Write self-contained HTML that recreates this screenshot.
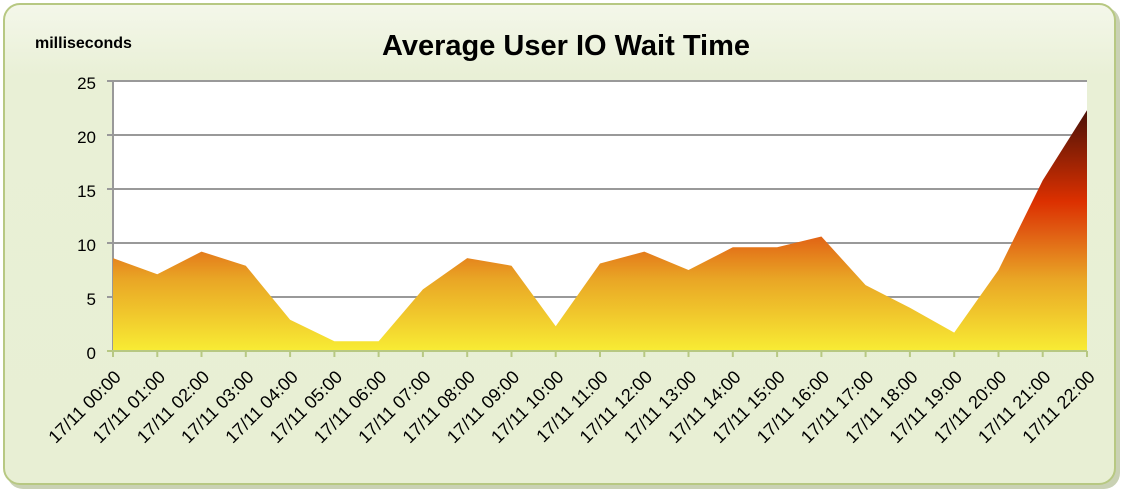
<!DOCTYPE html>
<html><head><style>body{margin:0;background:#fff}</style></head><body>
<svg width="1122" height="491" xmlns="http://www.w3.org/2000/svg" font-family="Liberation Sans, sans-serif">
<defs>
<linearGradient id="g" gradientUnits="userSpaceOnUse" x1="0" y1="351" x2="0" y2="110">
<stop offset="0" stop-color="#f8ec34"/>
<stop offset="0.3" stop-color="#e9a525"/>
<stop offset="0.5" stop-color="#e05a12"/>
<stop offset="0.62" stop-color="#dc3000"/>
<stop offset="1" stop-color="#4a1208"/>
</linearGradient>
<linearGradient id="bg" x1="0" y1="0" x2="0" y2="1">
<stop offset="0" stop-color="#f4f7ea"/><stop offset="0.15" stop-color="#e9f0d6"/><stop offset="1" stop-color="#e8efd4"/>
</linearGradient>
</defs>
<rect x="7" y="7" width="1113" height="482" rx="16" fill="#c9d1b4"/>
<rect x="4" y="4" width="1111" height="480" rx="16" fill="url(#bg)" stroke="#b7c882" stroke-width="2"/>
<text x="35" y="48" font-size="16" font-weight="bold">milliseconds</text>
<text x="566" y="55" font-size="29" font-weight="bold" text-anchor="middle">Average User IO Wait Time</text>
<rect x="113" y="81" width="974" height="270" fill="#fff"/>
<g stroke="#999" stroke-width="2">
<line x1="107" y1="81" x2="1087" y2="81"/><line x1="107" y1="135" x2="1087" y2="135"/>
<line x1="107" y1="189" x2="1087" y2="189"/><line x1="107" y1="243" x2="1087" y2="243"/>
<line x1="107" y1="297" x2="1087" y2="297"/><line x1="113" y1="81" x2="113" y2="351"/>
</g>
<g font-size="17" text-anchor="end">
<text x="96" y="89">25</text><text x="96" y="143">20</text><text x="96" y="197">15</text>
<text x="96" y="251">10</text><text x="96" y="305">5</text><text x="96" y="359">0</text>
</g>
<polygon fill="url(#g)" points="113,351 113,258.1 157.3,274.3 201.5,251.6 245.8,265.7 290.1,319.7 334.4,341.3 378.6,341.3 422.9,289.4 467.2,258.1 511.5,265.7 555.7,326.2 600,263.5 644.3,251.6 688.5,270 732.8,247.3 777.1,247.3 821.4,236.5 865.6,285.1 909.9,307.8 954.2,332.6 998.5,270 1042.7,180.4 1087,110.2 1087,351"/>
<line x1="107" y1="351" x2="1087" y2="351" stroke="#b7c882" stroke-width="2"/>
<g stroke="#b7c882" stroke-width="2">
<line x1="113" y1="351" x2="113" y2="357"/><line x1="157.3" y1="351" x2="157.3" y2="357"/><line x1="201.5" y1="351" x2="201.5" y2="357"/><line x1="245.8" y1="351" x2="245.8" y2="357"/><line x1="290.1" y1="351" x2="290.1" y2="357"/><line x1="334.4" y1="351" x2="334.4" y2="357"/><line x1="378.6" y1="351" x2="378.6" y2="357"/><line x1="422.9" y1="351" x2="422.9" y2="357"/><line x1="467.2" y1="351" x2="467.2" y2="357"/><line x1="511.5" y1="351" x2="511.5" y2="357"/><line x1="555.7" y1="351" x2="555.7" y2="357"/><line x1="600" y1="351" x2="600" y2="357"/><line x1="644.3" y1="351" x2="644.3" y2="357"/><line x1="688.5" y1="351" x2="688.5" y2="357"/><line x1="732.8" y1="351" x2="732.8" y2="357"/><line x1="777.1" y1="351" x2="777.1" y2="357"/><line x1="821.4" y1="351" x2="821.4" y2="357"/><line x1="865.6" y1="351" x2="865.6" y2="357"/><line x1="909.9" y1="351" x2="909.9" y2="357"/><line x1="954.2" y1="351" x2="954.2" y2="357"/><line x1="998.5" y1="351" x2="998.5" y2="357"/><line x1="1042.7" y1="351" x2="1042.7" y2="357"/><line x1="1087" y1="351" x2="1087" y2="357"/>
</g>
<g font-size="18" text-anchor="end">
<text transform="translate(122,378) rotate(-45)">17/11 00:00</text>
<text transform="translate(166.3,378) rotate(-45)">17/11 01:00</text>
<text transform="translate(210.5,378) rotate(-45)">17/11 02:00</text>
<text transform="translate(254.8,378) rotate(-45)">17/11 03:00</text>
<text transform="translate(299.1,378) rotate(-45)">17/11 04:00</text>
<text transform="translate(343.4,378) rotate(-45)">17/11 05:00</text>
<text transform="translate(387.6,378) rotate(-45)">17/11 06:00</text>
<text transform="translate(431.9,378) rotate(-45)">17/11 07:00</text>
<text transform="translate(476.2,378) rotate(-45)">17/11 08:00</text>
<text transform="translate(520.5,378) rotate(-45)">17/11 09:00</text>
<text transform="translate(564.7,378) rotate(-45)">17/11 10:00</text>
<text transform="translate(609,378) rotate(-45)">17/11 11:00</text>
<text transform="translate(653.3,378) rotate(-45)">17/11 12:00</text>
<text transform="translate(697.5,378) rotate(-45)">17/11 13:00</text>
<text transform="translate(741.8,378) rotate(-45)">17/11 14:00</text>
<text transform="translate(786.1,378) rotate(-45)">17/11 15:00</text>
<text transform="translate(830.4,378) rotate(-45)">17/11 16:00</text>
<text transform="translate(874.6,378) rotate(-45)">17/11 17:00</text>
<text transform="translate(918.9,378) rotate(-45)">17/11 18:00</text>
<text transform="translate(963.2,378) rotate(-45)">17/11 19:00</text>
<text transform="translate(1007.5,378) rotate(-45)">17/11 20:00</text>
<text transform="translate(1051.7,378) rotate(-45)">17/11 21:00</text>
<text transform="translate(1096,378) rotate(-45)">17/11 22:00</text>
</g>
</svg>
</body></html>
